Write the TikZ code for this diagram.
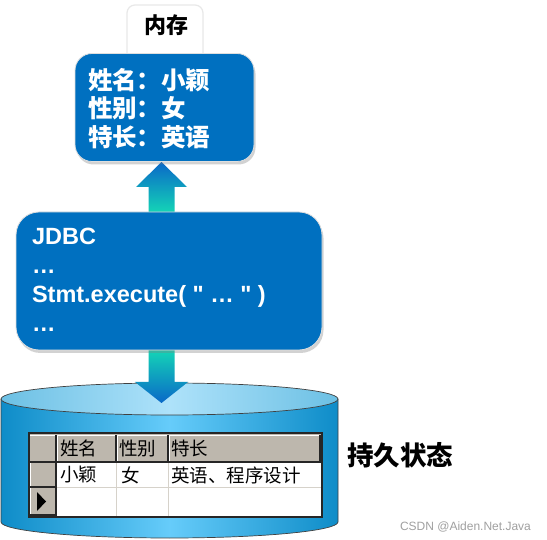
\documentclass[tikz,border=0pt]{standalone}
\usepackage{fontspec}
\setmainfont{Liberation Sans}
\newfontfamily\codefont{Liberation Sans}[Ligatures=TeXOff]
\newfontfamily\cjk{Noto Sans CJK SC}
\usetikzlibrary{shadows,calc}
\definecolor{boxblue}{HTML}{0070C0}
\definecolor{cyledge}{HTML}{0E8CC8}
\definecolor{cylmid}{HTML}{66CCFA}
\definecolor{topedge}{HTML}{6CC0E4}
\definecolor{topmid}{HTML}{AEE2FA}
\definecolor{arrblue}{HTML}{0A68C8}
\definecolor{arrlight}{HTML}{38A8E8}
\definecolor{arrteal}{HTML}{14D6B6}
\definecolor{hdrgray}{HTML}{BDB7AD}
\definecolor{gridgray}{HTML}{D6D2CA}
\definecolor{wmgray}{HTML}{A0A0A0}
\begin{document}
\begin{tikzpicture}[x=1pt,y=-1pt,
  every node/.style={inner sep=0pt, outer sep=0pt},
  bluebox/.style={rectangle, draw=white!75!gray, line width=0.8pt, fill=boxblue,
    drop shadow={shadow xshift=1.5pt, shadow yshift=-3pt, opacity=0.35}},
  labelbox/.style={rectangle, rounded corners=8pt, draw=gray!18, line width=1.2pt, fill=white,
    drop shadow={shadow xshift=0pt, shadow yshift=-1.5pt, opacity=0.12}},
  memtxt/.style={anchor=west, text=white, font=\cjk\bfseries\fontsize{24.5}{24.5}\selectfont},
  codetxt/.style={anchor=base west, text=white, font=\codefont\bfseries\fontsize{23.5}{23.5}\selectfont},
  celltxt/.style={anchor=west, font=\cjk\fontsize{18.5}{18.5}\selectfont},
  darkline/.style={draw=black!85, line width=1.6pt},
  gridline/.style={draw=gridgray, line width=1pt},
  hiline/.style={draw=white, line width=0.8pt},
  cylline/.style={draw=black!75, line width=0.7pt}
]
\fill[white] (0,0) rectangle (547,540);
\useasboundingbox (0,0) rectangle (547,540);

% ---- cylinder (persistent storage)
\shade[left color=cyledge, right color=cyledge, middle color=cylmid]
  (1,399) -- (1,522) arc[start angle=180, end angle=0, x radius=168.5, y radius=16] -- (338,399) -- cycle;
\draw[cylline] (1,399) -- (1,522) arc[start angle=180, end angle=0, x radius=168.5, y radius=16] -- (338,399);
\shadedraw[left color=topedge, right color=topedge, middle color=topmid, cylline]
  (169.5,399) ellipse [x radius=168.5, y radius=16];

% ---- table
\fill[white] (29,433) rectangle (322,517);
\fill[hdrgray] (29,434) rectangle (321,462);
\fill[hdrgray] (29,462) rectangle (56,516);
\draw[gridline] (56,487) -- (321,487);
\draw[gridline] (116,462) -- (116,516);
\draw[gridline] (168,462) -- (168,516);
\draw[hiline] (30,435.5) -- (320,435.5);
\draw[hiline] (57.5,436) -- (57.5,461);
\draw[hiline] (117.5,436) -- (117.5,461);
\draw[hiline] (169.5,436) -- (169.5,461);
\draw[hiline] (30.5,463) -- (30.5,515);
\draw[darkline] (29,462) -- (321,462);
\draw[darkline] (56,435) -- (56,516);
\draw[darkline] (116,435) -- (116,462);
\draw[darkline] (168,435) -- (168,462);
\draw[darkline] (320,435) -- (320,462);
\draw[darkline] (29,487) -- (56,487);
\draw[darkline] (29,515) -- (56,515);
\draw[draw=black!85, line width=1.3pt] (29,433) rectangle (322,517);
\fill[black] (37,492) -- (46,501.5) -- (37,511) -- cycle;

\node[celltxt] (h1) at (60,448.5) {姓名};
\node[celltxt] (h2) at (119,448.5) {性别};
\node[celltxt] (h3) at (171,448.5) {特长};
\node[celltxt] (c1) at (60,475) {小颖};
\node[celltxt] (c2) at (121,475) {女};
\node[celltxt] (c3) at (171,475) {英语、程序设计};

% ---- block arrows
\shade[top color=arrteal, middle color=arrlight, bottom color=arrblue]
  (148.5,349) -- (174.5,349) -- (174.5,382) -- (188,382) -- (161.5,403) -- (135,382) -- (148.5,382) -- cycle;
\shade[top color=arrblue, middle color=arrlight, bottom color=arrteal]
  (161.5,162) -- (187,187) -- (174.5,187) -- (174.5,213) -- (148.5,213) -- (148.5,187) -- (136,187) -- cycle;

% ---- boxes
\node[labelbox, minimum width=76pt, minimum height=66pt] (lbl) at (165,38) {};
\node[bluebox, rounded corners=17pt, minimum width=179pt, minimum height=108pt] (mem) at (164.5,107.5) {};
\node[bluebox, rounded corners=23pt, minimum width=306pt, minimum height=138pt] (jdbc) at (169,281) {};

% ---- texts
\node[font=\cjk\bfseries\fontsize{22}{22}\selectfont] (lbltxt) at (166,25) {内存};
\node[memtxt] (m1) at (88,80) {姓名：小颖};
\node[memtxt] (m2) at (88,108) {性别：女};
\node[memtxt] (m3) at (88,137) {特长：英语};

\node[codetxt] (j1) at (32,245) {JDBC};
\node[codetxt] (j2) at (32,274) {…};
\node[codetxt] (j3) at (32,303) {Stmt.execute( " … " )};
\node[codetxt] (j4) at (32,332) {…};

\node[anchor=west, font=\cjk\bfseries\fontsize{26.5}{26.5}\selectfont] (persist) at (347,455) {持久状态};
\node[anchor=base west, text=wmgray, font=\fontsize{12}{12}\selectfont] (wm) at (400,530.5) {CSDN @Aiden.Net.Java};
\end{tikzpicture}
\end{document}
